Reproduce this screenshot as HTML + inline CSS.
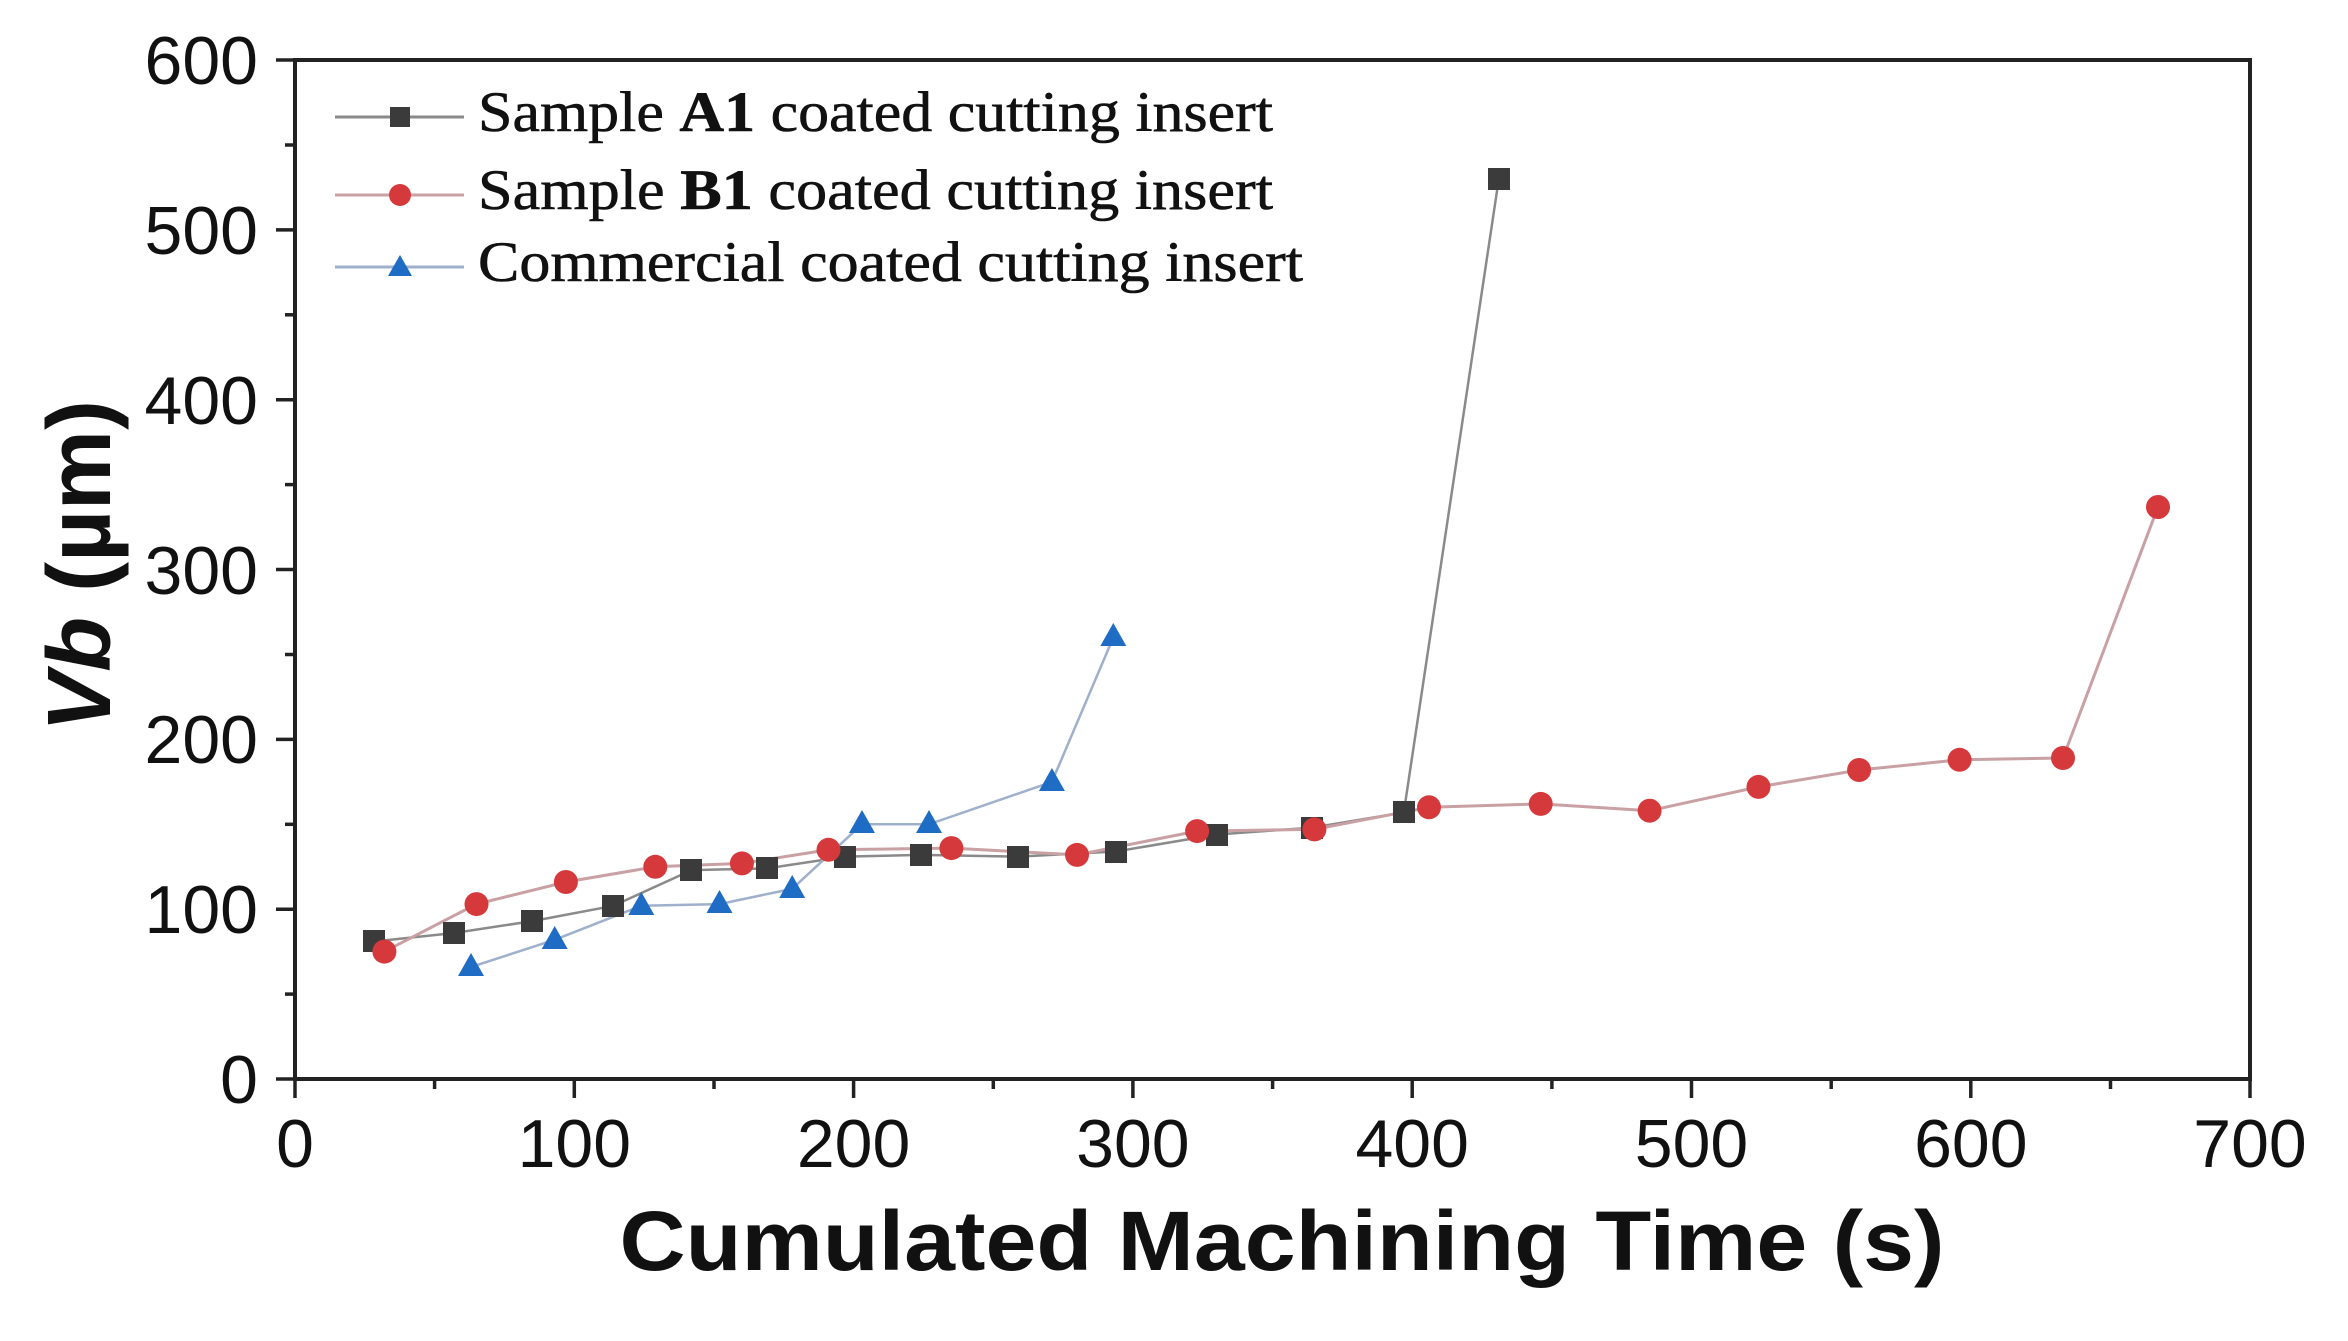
<!DOCTYPE html>
<html><head><meta charset="utf-8"><style>html,body{margin:0;padding:0;background:#fff}svg{display:block}</style></head>
<body>
<svg width="2348" height="1341" viewBox="0 0 2348 1341" xmlns="http://www.w3.org/2000/svg">
<rect width="2348" height="1341" fill="#fff"/>
<g stroke="#222" stroke-width="3.5">
<line x1="295" y1="1079" x2="295" y2="1098"/>
<line x1="434.6" y1="1079" x2="434.6" y2="1089"/>
<line x1="574.3" y1="1079" x2="574.3" y2="1098"/>
<line x1="714" y1="1079" x2="714" y2="1089"/>
<line x1="853.6" y1="1079" x2="853.6" y2="1098"/>
<line x1="993.3" y1="1079" x2="993.3" y2="1089"/>
<line x1="1132.9" y1="1079" x2="1132.9" y2="1098"/>
<line x1="1272.6" y1="1079" x2="1272.6" y2="1089"/>
<line x1="1412.2" y1="1079" x2="1412.2" y2="1098"/>
<line x1="1551.9" y1="1079" x2="1551.9" y2="1089"/>
<line x1="1691.5" y1="1079" x2="1691.5" y2="1098"/>
<line x1="1831.2" y1="1079" x2="1831.2" y2="1089"/>
<line x1="1970.8" y1="1079" x2="1970.8" y2="1098"/>
<line x1="2110.5" y1="1079" x2="2110.5" y2="1089"/>
<line x1="2250" y1="1079" x2="2250" y2="1098"/>
<line x1="276" y1="1079" x2="295" y2="1079"/>
<line x1="285" y1="994.1" x2="295" y2="994.1"/>
<line x1="276" y1="909.2" x2="295" y2="909.2"/>
<line x1="285" y1="824.3" x2="295" y2="824.3"/>
<line x1="276" y1="739.4" x2="295" y2="739.4"/>
<line x1="285" y1="654.5" x2="295" y2="654.5"/>
<line x1="276" y1="569.5" x2="295" y2="569.5"/>
<line x1="285" y1="484.6" x2="295" y2="484.6"/>
<line x1="276" y1="399.7" x2="295" y2="399.7"/>
<line x1="285" y1="314.8" x2="295" y2="314.8"/>
<line x1="276" y1="229.9" x2="295" y2="229.9"/>
<line x1="285" y1="145" x2="295" y2="145"/>
<line x1="276" y1="60" x2="295" y2="60"/>
</g>
<rect x="295" y="60" width="1955" height="1019" fill="none" stroke="#222" stroke-width="4"/>
<g font-family="Liberation Sans, Arial, sans-serif" font-size="68" fill="#111">
<g text-anchor="middle">
<text x="295" y="1167">0</text><text x="574.3" y="1167">100</text><text x="853.6" y="1167">200</text>
<text x="1132.9" y="1167">300</text><text x="1412.2" y="1167">400</text><text x="1691.5" y="1167">500</text>
<text x="1970.8" y="1167">600</text><text x="2250" y="1167">700</text>
</g>
<g text-anchor="end">
<text x="258" y="1103">0</text><text x="258" y="933">100</text><text x="258" y="763">200</text>
<text x="258" y="594">300</text><text x="258" y="424">400</text><text x="258" y="254">500</text><text x="258" y="84">600</text>
</g>
</g>
<text x="1282" y="1270" text-anchor="middle" font-family="Liberation Sans, Arial, sans-serif" font-weight="bold" font-size="84" textLength="1325" lengthAdjust="spacingAndGlyphs" fill="#111">Cumulated Machining Time (s)</text>
<text transform="translate(110,566) rotate(-90)" text-anchor="middle" font-family="Liberation Sans, Arial, sans-serif" font-weight="bold" font-size="90" fill="#111"><tspan font-style="italic">Vb</tspan> (µm)</text>
<polyline fill="none" stroke="#8a8a8a" stroke-width="2.5" points="374.3,941.5 454.2,933 532.4,921.1 613.4,905.8 691.6,870.1 767,868.4 845.2,856.6 920.6,854.9 1018.4,856.6 1116.1,851.5 1216.7,834.5 1311.7,827.7 1403.8,812.4 1498.8,179"/>
<polyline fill="none" stroke="#c9a0a3" stroke-width="3" points="384.4,951.6 476.5,904.1 565.9,882 655.3,866.8 741.9,863.4 828.5,849.8 951.4,848.1 1077,854.9 1197.1,831.1 1314.4,829.4 1429,807.3 1540.7,803.9 1649.6,810.7 1758.5,786.9 1859.1,770 1959.6,759.8 2063,758 2158,507"/>
<polyline fill="none" stroke="#9fb0cc" stroke-width="2.5" points="471,967 554.7,939.8 641.3,905.8 719.5,904.1 792.2,888.8 862,824.3 929,824.3 1051.9,781.9 1113.3,637.5"/>
<g fill="#3b3b3b">
<rect x="363" y="930" width="22" height="22"/><rect x="443" y="922" width="22" height="22"/><rect x="521" y="910" width="22" height="22"/>
<rect x="602" y="895" width="22" height="22"/><rect x="680" y="859" width="22" height="22"/><rect x="756" y="857" width="22" height="22"/>
<rect x="834" y="846" width="22" height="22"/><rect x="910" y="844" width="22" height="22"/><rect x="1007" y="846" width="22" height="22"/>
<rect x="1105" y="841" width="22" height="22"/><rect x="1206" y="824" width="22" height="22"/><rect x="1301" y="817" width="22" height="22"/>
<rect x="1393" y="801" width="22" height="22"/><rect x="1488" y="168" width="22" height="22"/>
</g>
<g fill="#d6393c">
<circle cx="384.4" cy="951.6" r="12"/><circle cx="476.5" cy="904.1" r="12"/><circle cx="565.9" cy="882" r="12"/>
<circle cx="655.3" cy="866.8" r="12"/><circle cx="741.9" cy="863.4" r="12"/><circle cx="828.5" cy="849.8" r="12"/>
<circle cx="951.4" cy="848.1" r="12"/><circle cx="1077" cy="854.9" r="12"/><circle cx="1197.1" cy="831.1" r="12"/>
<circle cx="1314.4" cy="829.4" r="12"/><circle cx="1429" cy="807.3" r="12"/><circle cx="1540.7" cy="803.9" r="12"/>
<circle cx="1649.6" cy="810.7" r="12"/><circle cx="1758.5" cy="786.9" r="12"/><circle cx="1859.1" cy="770" r="12"/>
<circle cx="1959.6" cy="759.8" r="12"/><circle cx="2063" cy="758" r="12"/><circle cx="2158" cy="507" r="12"/>
</g>
<g fill="#1e6cc4">
<path d="M471,953 l13,23 h-26z"/><path d="M554.7,926 l13,23 h-26z"/><path d="M641.3,892 l13,23 h-26z"/>
<path d="M719.5,890 l13,23 h-26z"/><path d="M792.2,875 l13,23 h-26z"/><path d="M862,810 l13,23 h-26z"/>
<path d="M929,810 l13,23 h-26z"/><path d="M1051.9,768 l13,23 h-26z"/><path d="M1113.3,623 l13,23 h-26z"/>
</g>
<line x1="335" y1="117" x2="464" y2="117" stroke="#8a8a8a" stroke-width="3"/>
<rect x="390" y="107" width="20" height="20" fill="#3b3b3b"/>
<line x1="335" y1="195" x2="464" y2="195" stroke="#c9a0a3" stroke-width="3"/>
<circle cx="400" cy="195" r="11" fill="#d6393c"/>
<line x1="335" y1="267" x2="464" y2="267" stroke="#9fb0cc" stroke-width="3"/>
<path d="M400,255 l12,21 h-24z" fill="#1e6cc4"/>
<g font-family="Liberation Serif, Times New Roman, serif" font-size="57" fill="#111" stroke="#111" stroke-width="0.6">
<text x="478" y="131" textLength="795" lengthAdjust="spacingAndGlyphs">Sample <tspan font-weight="bold">A1</tspan> coated cutting insert</text>
<text x="478" y="209" textLength="795" lengthAdjust="spacingAndGlyphs">Sample <tspan font-weight="bold">B1</tspan> coated cutting insert</text>
<text x="478" y="281" textLength="825" lengthAdjust="spacingAndGlyphs">Commercial coated cutting insert</text>
</g>
</svg>
</body></html>
